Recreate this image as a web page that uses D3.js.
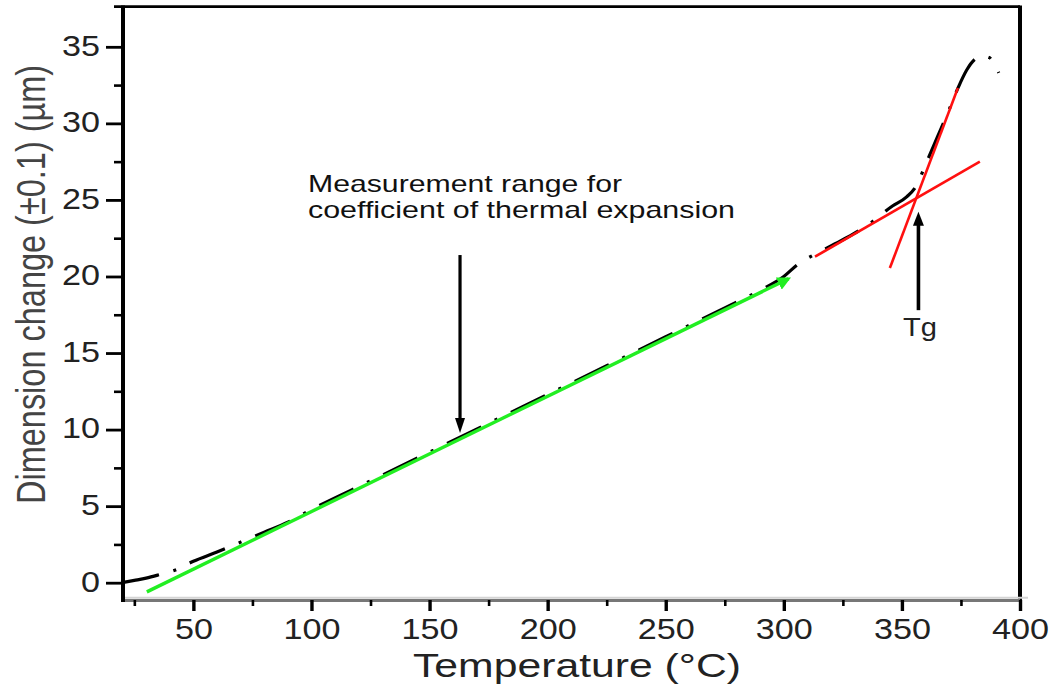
<!DOCTYPE html>
<html>
<head>
<meta charset="utf-8">
<script src="https://cdn.jsdelivr.net/npm/d3@7"></script>
<style>
  html, body { margin: 0; padding: 0; background: #fff; }
  svg { display: block; }
  text { font-family: "Liberation Sans", Arial, sans-serif; }
</style>
</head>
<body>
<svg id="chart" width="1053" height="686"></svg>
<script>
// ---- data ----
const curveTemp = [19.7, 25, 30, 35, 43, 50, 60, 70, 80, 90, 100, 125, 150, 175, 200, 225, 250, 275, 290, 300, 306, 315, 325, 335, 346, 352, 356, 360, 365, 370, 374, 377.5, 381, 384, 387, 389, 391];
const curveDim  = [0, 0.15, 0.3, 0.5, 0.87, 1.4, 2.0, 2.65, 3.3, 3.95, 4.78, 6.65, 8.53, 10.41, 12.29, 14.17, 16.06, 17.95, 19.1, 20.0, 20.8, 21.6, 22.4, 23.3, 24.6, 25.2, 25.9, 27.3, 29.1, 30.9, 32.4, 33.5, 34.2, 34.4, 34.3, 33.9, 33.3];
const fitTemp = [30.3, 302];
const fitDim  = [-0.6, 19.85];
const glassyTemp = [313.2, 383.0];
const glassyDim  = [21.29, 27.5];
const rubberyTemp = [344.9, 373.7];
const rubberyDim  = [20.55, 32.31];
const xMajorTicks = [50, 100, 150, 200, 250, 300, 350, 400];
const xMinorTicks = [25, 75, 125, 175, 225, 275, 325, 375];
const yMajorTicks = [0, 5, 10, 15, 20, 25, 30, 35];
const yMinorTicks = [2.5, 7.5, 12.5, 17.5, 22.5, 27.5, 32.5];
const xTitle = "Temperature (°C)";
const yTitle = "Dimension change (±0.1) (µm)";
const noteLines = ["Measurement range for", "coefficient of thermal expansion"];
const tgLabel = "Tg";

// ---- layout ----
const svg = d3.select("#chart");
const L = 123, R = 1020, T = 6.7, B = 600;
const x = d3.scaleLinear().domain([20.2, 400]).range([L, R]);
const y = d3.scaleLinear().domain([-1.13, 37.62]).range([B, T]);

const font = '"Liberation Sans", Arial, sans-serif';

// frame lines (top + right)
svg.append("line").attr("x1", 114).attr("x2", R).attr("y1", T).attr("y2", T)
  .attr("stroke", "#000").attr("stroke-width", 2.7);
svg.append("line").attr("x1", R).attr("x2", R).attr("y1", T - 1.3).attr("y2", B)
  .attr("stroke", "#000").attr("stroke-width", 4);

// x-axis baseline (grey with light edge)
svg.append("line").attr("x1", L).attr("x2", R + 8).attr("y1", 597.8).attr("y2", 597.8)
  .attr("stroke", "#d4d4d4").attr("stroke-width", 2);
svg.append("line").attr("x1", L).attr("x2", R).attr("y1", 600.5).attr("y2", 600.5)
  .attr("stroke", "#777").attr("stroke-width", 3.2);

// x axis ticks
const gxMinor = svg.append("g").attr("transform", `translate(0,${B})`)
  .call(d3.axisBottom(x).tickValues(xMinorTicks).tickSize(6).tickSizeOuter(0).tickFormat(""));
gxMinor.select(".domain").remove();
gxMinor.selectAll("line").attr("stroke", "#000").attr("stroke-width", 2.6);

const gx = svg.append("g").attr("transform", `translate(0,${B})`)
  .call(d3.axisBottom(x).tickValues(xMajorTicks).tickSize(11).tickSizeOuter(0).tickFormat(d3.format("d")));
gx.select(".domain").remove();
gx.selectAll("line").attr("stroke", "#000").attr("stroke-width", 3.4);
gx.selectAll("text")
  .attr("y", 39).attr("dy", null)
  .attr("fill", "#222")
  .style("font-family", font).style("font-size", "29px")
  .attr("textLength", d => String(d).length * 19)
  .attr("lengthAdjust", "spacingAndGlyphs");

// y axis
const gyMinor = svg.append("g").attr("transform", `translate(${L},0)`)
  .call(d3.axisLeft(y).tickValues(yMinorTicks).tickSize(9).tickSizeOuter(0).tickFormat(""));
gyMinor.select(".domain").remove();
gyMinor.selectAll("line").attr("stroke", "#000").attr("stroke-width", 2.6);

const gy = svg.append("g").attr("transform", `translate(${L},0)`)
  .call(d3.axisLeft(y).tickValues(yMajorTicks).tickSize(17).tickSizeOuter(0).tickFormat(d3.format("d")));
gy.select(".domain").remove();
gy.selectAll("line").attr("stroke", "#000").attr("stroke-width", 2.8);
gy.selectAll("text")
  .attr("x", -23).attr("y", 8.3).attr("dy", null)
  .attr("fill", "#222")
  .style("font-family", font).style("font-size", "29px")
  .attr("textLength", d => String(d).length * 19)
  .attr("lengthAdjust", "spacingAndGlyphs");

svg.append("line").attr("x1", L).attr("x2", L).attr("y1", T - 1.3).attr("y2", 602)
  .attr("stroke", "#000").attr("stroke-width", 4);

// axis titles
svg.append("text")
  .attr("x", 413).attr("y", 676.5)
  .attr("fill", "#222")
  .style("font-size", "33px")
  .attr("textLength", 328).attr("lengthAdjust", "spacingAndGlyphs")
  .text(xTitle);

// y title: natural length matches, glyph height stretched via scale
svg.append("text")
  .attr("transform", "translate(44.5,504) scale(1.24,1) rotate(-90)")
  .attr("fill", "#444")
  .style("font-size", "32.5px")
  .text(yTitle);

// ---- data marks ----
const curve = curveTemp.map((t, i) => [t, curveDim[i]]);
const line = d3.line().x(d => x(d[0])).y(d => y(d[1])).curve(d3.curveMonotoneX);

svg.append("path").datum(curve)
  .attr("d", line)
  .attr("fill", "none").attr("stroke", "#000").attr("stroke-width", 3.2)
  .attr("stroke-dasharray", "38,15,3,15");

// green fit line with arrowhead
const defs = svg.append("defs");
defs.append("marker").attr("id", "garrow")
  .attr("viewBox", "0 0 10 10").attr("refX", 8).attr("refY", 5)
  .attr("markerWidth", 4).attr("markerHeight", 4).attr("orient", "auto")
  .attr("markerUnits", "strokeWidth")
  .append("path").attr("d", "M0,0 L10,5 L0,10 z").attr("fill", "#22ee22");

const fit = fitTemp.map((t, i) => [t, fitDim[i]]);
svg.append("path").datum(fit)
  .attr("d", d3.line().x(d => x(d[0])).y(d => y(d[1])))
  .attr("fill", "none").attr("stroke", "#22ee22").attr("stroke-width", 3.4)
  .attr("marker-end", "url(#garrow)");

// red tangent lines
[[glassyTemp, glassyDim], [rubberyTemp, rubberyDim]].forEach(([ts, vs]) => {
  svg.append("path").datum(ts.map((t, i) => [t, vs[i]]))
    .attr("d", d3.line().x(d => x(d[0])).y(d => y(d[1])))
    .attr("fill", "none").attr("stroke", "#ff1010").attr("stroke-width", 2.6);
});

// ---- annotations ----
function arrow(t, v0, v1, w, headW, headH) {
  const xp = x(t), y0 = y(v0), y1 = y(v1);
  const dir = y1 > y0 ? 1 : -1;
  svg.append("line").attr("x1", xp).attr("x2", xp).attr("y1", y0).attr("y2", y1 - dir * headH * 0.6)
    .attr("stroke", "#000").attr("stroke-width", w);
  svg.append("path")
    .attr("d", `M${xp - headW / 2},${y1 - dir * headH} L${xp + headW / 2},${y1 - dir * headH} L${xp},${y1} Z`)
    .attr("fill", "#000");
}
arrow(162.9, 21.4, 9.78, 3.2, 10, 15);
arrow(357.0, 17.8, 24.23, 3.6, 11, 14);

svg.append("text").attr("x", 308).attr("y", 192)
  .attr("fill", "#111").style("font-size", "24px")
  .attr("textLength", 314).attr("lengthAdjust", "spacingAndGlyphs")
  .text(noteLines[0]);
svg.append("text").attr("x", 308).attr("y", 218)
  .attr("fill", "#111").style("font-size", "24px")
  .attr("textLength", 427).attr("lengthAdjust", "spacingAndGlyphs")
  .text(noteLines[1]);

svg.append("text").attr("x", 903).attr("y", 336)
  .attr("fill", "#222").style("font-size", "26px")
  .attr("textLength", 34).attr("lengthAdjust", "spacingAndGlyphs")
  .text(tgLabel);
</script>
</body>
</html>
